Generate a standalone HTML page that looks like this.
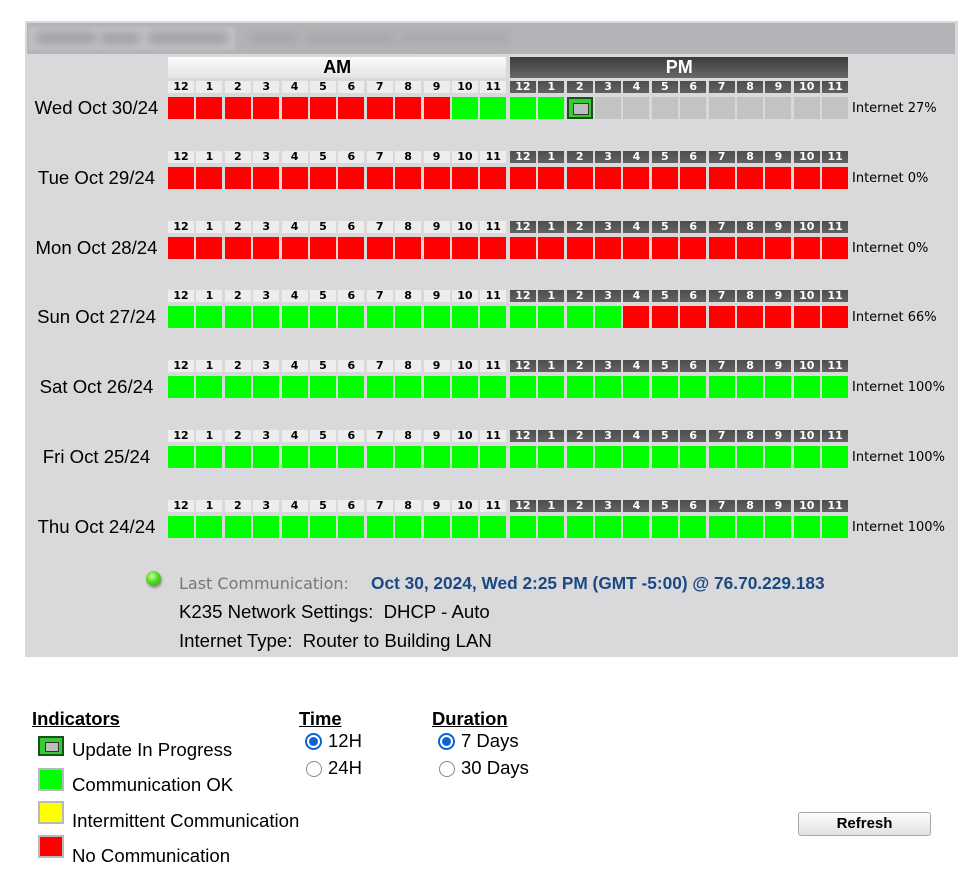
<!DOCTYPE html>
<html><head><meta charset="utf-8">
<style>
*{margin:0;padding:0;box-sizing:border-box}
body{width:977px;height:890px;background:#fff;position:relative;overflow:hidden;font-family:"Liberation Sans",Arial,sans-serif;color:#000}
.panel{position:absolute;left:25px;top:21px;width:933px;height:636px;background:#d9d9db}
.hdr{position:absolute;left:27px;top:23px;width:928px;height:31px;background:#b4b4b8}
.blk{position:absolute;background:#c0c0c4;filter:blur(1.5px)}
.blob{position:absolute;background:#a3a3a7;filter:blur(4px);border-radius:6px}
.ampm{position:absolute;top:57px;height:21px;width:338.4px;text-align:center;font:bold 18px "Liberation Sans",Arial,sans-serif;line-height:21px}
.am{left:168px;background:linear-gradient(#fbfbfb,#e4e4e4);color:#000}
.pm{left:510px;background:linear-gradient(#3c3c3c,#686868);color:#fff}
.row{position:absolute;left:0;width:977px;height:40px}
.hl{position:absolute;left:168px;top:0;display:flex}
.hl span{display:block;width:26px;height:12px;margin-right:2.4px;font:bold 11px "DejaVu Sans",Verdana,sans-serif;line-height:12px;text-align:center}
.hl span:nth-child(12),.cl i:nth-child(12){margin-right:3.6px}
.hl span.a{background:#ededed;color:#000}
.hl span.p{background:linear-gradient(#4e4e4e,#626262);color:#fff}
.cl{position:absolute;left:168px;top:16px;display:flex}
.cl i{display:block;width:26px;height:22px;margin-right:2.4px}
.r{background:#ff0000}.g{background:#00ff00}.x{background:#c3c3c3}
.u{background:#33cc33;border:2px solid #1d4f1d;position:relative}
.u:after{content:"";position:absolute;left:4px;top:4px;width:14px;height:10px;background:#bdbdbd;border:1.5px solid #333}
.day{position:absolute;left:20px;width:153px;top:16px;height:22px;line-height:22px;text-align:center;font-size:18.6px;white-space:nowrap}
.pct{position:absolute;left:852px;top:17px;height:22px;font:13px "DejaVu Sans",Verdana,sans-serif;line-height:22px;white-space:nowrap}
.t{position:absolute;white-space:pre;line-height:20px}
.ball{position:absolute;left:146px;top:571px;width:15px;height:15px;border-radius:50%;background:radial-gradient(circle at 40% 35%,#c8ff9c 0,#5be02a 40%,#2f9a12 100%);box-shadow:1px 2px 2px rgba(0,0,0,.35)}
.ico{position:absolute;left:38px;width:26px;height:23px;border:2px solid #b9b9b9}
.uico{position:absolute;left:38px;top:736px;width:26px;height:20px;background:#33cc33;border:2px solid #1d4f1d}
.uico:after{content:"";position:absolute;left:5px;top:4px;width:12px;height:8px;background:#bdbdbd;border:1.5px solid #333}
.h{position:absolute;font:bold 18.4px "Liberation Sans",Arial,sans-serif;text-decoration:underline;line-height:20px}
.rs{position:absolute;width:17px;height:17px;border-radius:50%;border:2px solid #0b63d6;background:#fff}
.rs:after{content:"";position:absolute;left:2px;top:2px;width:9px;height:9px;border-radius:50%;background:#0b63d6}
.ru{position:absolute;width:16px;height:16px;border-radius:50%;border:1px solid #8a8a8a;background:#fff}
.btn{position:absolute;left:798px;top:812px;width:133px;height:24px;border:1px solid #a9a9a9;border-radius:3px;background:linear-gradient(#fdfdfd,#e1e1e1);text-align:center;font:bold 15px "Liberation Sans",Arial,sans-serif;line-height:22px}
.lg{font-size:18.6px}
</style></head><body>
<div class="panel"></div>
<div class="hdr"></div>
<div class="blk" style="left:28px;top:27px;width:207px;height:23px"></div>
<div class="blob" style="left:36px;top:32px;width:60px;height:12px"></div>
<div class="blob" style="left:100px;top:33px;width:40px;height:11px"></div>
<div class="blob" style="left:148px;top:32px;width:80px;height:12px"></div>
<div class="blob" style="left:248px;top:32px;width:50px;height:12px;background:#a8a8ac"></div>
<div class="blob" style="left:305px;top:33px;width:90px;height:11px;background:#a8a8ac"></div>
<div class="blob" style="left:400px;top:32px;width:110px;height:12px;background:#aaaaae"></div>

<div class="ampm am">AM</div>
<div class="ampm pm">PM</div>

<div class="row" style="top:81px">
<div class="hl"><span class="a">12</span><span class="a">1</span><span class="a">2</span><span class="a">3</span><span class="a">4</span><span class="a">5</span><span class="a">6</span><span class="a">7</span><span class="a">8</span><span class="a">9</span><span class="a">10</span><span class="a">11</span><span class="p">12</span><span class="p">1</span><span class="p">2</span><span class="p">3</span><span class="p">4</span><span class="p">5</span><span class="p">6</span><span class="p">7</span><span class="p">8</span><span class="p">9</span><span class="p">10</span><span class="p">11</span></div>
<div class="cl"><i class="r"></i><i class="r"></i><i class="r"></i><i class="r"></i><i class="r"></i><i class="r"></i><i class="r"></i><i class="r"></i><i class="r"></i><i class="r"></i><i class="g"></i><i class="g"></i><i class="g"></i><i class="g"></i><i class="u"></i><i class="x"></i><i class="x"></i><i class="x"></i><i class="x"></i><i class="x"></i><i class="x"></i><i class="x"></i><i class="x"></i><i class="x"></i></div>
<div class="day">Wed Oct 30/24</div><div class="pct">Internet 27%</div>
</div>

<div class="row" style="top:150.8px">
<div class="hl"><span class="a">12</span><span class="a">1</span><span class="a">2</span><span class="a">3</span><span class="a">4</span><span class="a">5</span><span class="a">6</span><span class="a">7</span><span class="a">8</span><span class="a">9</span><span class="a">10</span><span class="a">11</span><span class="p">12</span><span class="p">1</span><span class="p">2</span><span class="p">3</span><span class="p">4</span><span class="p">5</span><span class="p">6</span><span class="p">7</span><span class="p">8</span><span class="p">9</span><span class="p">10</span><span class="p">11</span></div>
<div class="cl"><i class="r"></i><i class="r"></i><i class="r"></i><i class="r"></i><i class="r"></i><i class="r"></i><i class="r"></i><i class="r"></i><i class="r"></i><i class="r"></i><i class="r"></i><i class="r"></i><i class="r"></i><i class="r"></i><i class="r"></i><i class="r"></i><i class="r"></i><i class="r"></i><i class="r"></i><i class="r"></i><i class="r"></i><i class="r"></i><i class="r"></i><i class="r"></i></div>
<div class="day">Tue Oct 29/24</div><div class="pct">Internet 0%</div>
</div>

<div class="row" style="top:220.6px">
<div class="hl"><span class="a">12</span><span class="a">1</span><span class="a">2</span><span class="a">3</span><span class="a">4</span><span class="a">5</span><span class="a">6</span><span class="a">7</span><span class="a">8</span><span class="a">9</span><span class="a">10</span><span class="a">11</span><span class="p">12</span><span class="p">1</span><span class="p">2</span><span class="p">3</span><span class="p">4</span><span class="p">5</span><span class="p">6</span><span class="p">7</span><span class="p">8</span><span class="p">9</span><span class="p">10</span><span class="p">11</span></div>
<div class="cl"><i class="r"></i><i class="r"></i><i class="r"></i><i class="r"></i><i class="r"></i><i class="r"></i><i class="r"></i><i class="r"></i><i class="r"></i><i class="r"></i><i class="r"></i><i class="r"></i><i class="r"></i><i class="r"></i><i class="r"></i><i class="r"></i><i class="r"></i><i class="r"></i><i class="r"></i><i class="r"></i><i class="r"></i><i class="r"></i><i class="r"></i><i class="r"></i></div>
<div class="day">Mon Oct 28/24</div><div class="pct">Internet 0%</div>
</div>

<div class="row" style="top:290.4px">
<div class="hl"><span class="a">12</span><span class="a">1</span><span class="a">2</span><span class="a">3</span><span class="a">4</span><span class="a">5</span><span class="a">6</span><span class="a">7</span><span class="a">8</span><span class="a">9</span><span class="a">10</span><span class="a">11</span><span class="p">12</span><span class="p">1</span><span class="p">2</span><span class="p">3</span><span class="p">4</span><span class="p">5</span><span class="p">6</span><span class="p">7</span><span class="p">8</span><span class="p">9</span><span class="p">10</span><span class="p">11</span></div>
<div class="cl"><i class="g"></i><i class="g"></i><i class="g"></i><i class="g"></i><i class="g"></i><i class="g"></i><i class="g"></i><i class="g"></i><i class="g"></i><i class="g"></i><i class="g"></i><i class="g"></i><i class="g"></i><i class="g"></i><i class="g"></i><i class="g"></i><i class="r"></i><i class="r"></i><i class="r"></i><i class="r"></i><i class="r"></i><i class="r"></i><i class="r"></i><i class="r"></i></div>
<div class="day">Sun Oct 27/24</div><div class="pct">Internet 66%</div>
</div>

<div class="row" style="top:360.2px">
<div class="hl"><span class="a">12</span><span class="a">1</span><span class="a">2</span><span class="a">3</span><span class="a">4</span><span class="a">5</span><span class="a">6</span><span class="a">7</span><span class="a">8</span><span class="a">9</span><span class="a">10</span><span class="a">11</span><span class="p">12</span><span class="p">1</span><span class="p">2</span><span class="p">3</span><span class="p">4</span><span class="p">5</span><span class="p">6</span><span class="p">7</span><span class="p">8</span><span class="p">9</span><span class="p">10</span><span class="p">11</span></div>
<div class="cl"><i class="g"></i><i class="g"></i><i class="g"></i><i class="g"></i><i class="g"></i><i class="g"></i><i class="g"></i><i class="g"></i><i class="g"></i><i class="g"></i><i class="g"></i><i class="g"></i><i class="g"></i><i class="g"></i><i class="g"></i><i class="g"></i><i class="g"></i><i class="g"></i><i class="g"></i><i class="g"></i><i class="g"></i><i class="g"></i><i class="g"></i><i class="g"></i></div>
<div class="day">Sat Oct 26/24</div><div class="pct">Internet 100%</div>
</div>

<div class="row" style="top:430px">
<div class="hl"><span class="a">12</span><span class="a">1</span><span class="a">2</span><span class="a">3</span><span class="a">4</span><span class="a">5</span><span class="a">6</span><span class="a">7</span><span class="a">8</span><span class="a">9</span><span class="a">10</span><span class="a">11</span><span class="p">12</span><span class="p">1</span><span class="p">2</span><span class="p">3</span><span class="p">4</span><span class="p">5</span><span class="p">6</span><span class="p">7</span><span class="p">8</span><span class="p">9</span><span class="p">10</span><span class="p">11</span></div>
<div class="cl"><i class="g"></i><i class="g"></i><i class="g"></i><i class="g"></i><i class="g"></i><i class="g"></i><i class="g"></i><i class="g"></i><i class="g"></i><i class="g"></i><i class="g"></i><i class="g"></i><i class="g"></i><i class="g"></i><i class="g"></i><i class="g"></i><i class="g"></i><i class="g"></i><i class="g"></i><i class="g"></i><i class="g"></i><i class="g"></i><i class="g"></i><i class="g"></i></div>
<div class="day">Fri Oct 25/24</div><div class="pct">Internet 100%</div>
</div>

<div class="row" style="top:499.8px">
<div class="hl"><span class="a">12</span><span class="a">1</span><span class="a">2</span><span class="a">3</span><span class="a">4</span><span class="a">5</span><span class="a">6</span><span class="a">7</span><span class="a">8</span><span class="a">9</span><span class="a">10</span><span class="a">11</span><span class="p">12</span><span class="p">1</span><span class="p">2</span><span class="p">3</span><span class="p">4</span><span class="p">5</span><span class="p">6</span><span class="p">7</span><span class="p">8</span><span class="p">9</span><span class="p">10</span><span class="p">11</span></div>
<div class="cl"><i class="g"></i><i class="g"></i><i class="g"></i><i class="g"></i><i class="g"></i><i class="g"></i><i class="g"></i><i class="g"></i><i class="g"></i><i class="g"></i><i class="g"></i><i class="g"></i><i class="g"></i><i class="g"></i><i class="g"></i><i class="g"></i><i class="g"></i><i class="g"></i><i class="g"></i><i class="g"></i><i class="g"></i><i class="g"></i><i class="g"></i><i class="g"></i></div>
<div class="day">Thu Oct 24/24</div><div class="pct">Internet 100%</div>
</div>

<div class="ball"></div>
<div class="t" style="left:179px;top:574px;font:16px 'DejaVu Sans',Verdana,sans-serif;color:#777;line-height:20px">Last Communication:</div>
<div class="t" style="left:371px;top:573px;font:bold 17.3px 'Liberation Sans',Arial,sans-serif;color:#1b4a82;line-height:20px">Oct 30, 2024, Wed 2:25 PM (GMT -5:00) @ 76.70.229.183</div>
<div class="t lg" style="left:179px;top:602px">K235 Network Settings:  DHCP - Auto</div>
<div class="t lg" style="left:179px;top:631px">Internet Type:  Router to Building LAN</div>

<div class="h" style="left:32px;top:709px">Indicators</div>
<div class="h" style="left:299px;top:709px">Time</div>
<div class="h" style="left:432px;top:709px">Duration</div>

<div class="uico"></div>
<div class="ico" style="top:768px;background:#00ff00"></div>
<div class="ico" style="top:801px;background:#ffff00"></div>
<div class="ico" style="top:835px;background:#ff0000"></div>
<div class="t lg" style="left:72px;top:740px">Update In Progress</div>
<div class="t lg" style="left:72px;top:775px">Communication OK</div>
<div class="t lg" style="left:72px;top:811px">Intermittent Communication</div>
<div class="t lg" style="left:72px;top:846px">No Communication</div>

<div class="rs" style="left:305px;top:733px"></div>
<div class="ru" style="left:306px;top:761px"></div>
<div class="t" style="left:328px;top:731px;font-size:18.5px">12H</div>
<div class="t" style="left:328px;top:758px;font-size:18.5px">24H</div>
<div class="rs" style="left:438px;top:733px"></div>
<div class="ru" style="left:439px;top:761px"></div>
<div class="t" style="left:461px;top:731px;font-size:18.5px">7 Days</div>
<div class="t" style="left:461px;top:758px;font-size:18.5px">30 Days</div>

<div class="btn">Refresh</div>
</body></html>
